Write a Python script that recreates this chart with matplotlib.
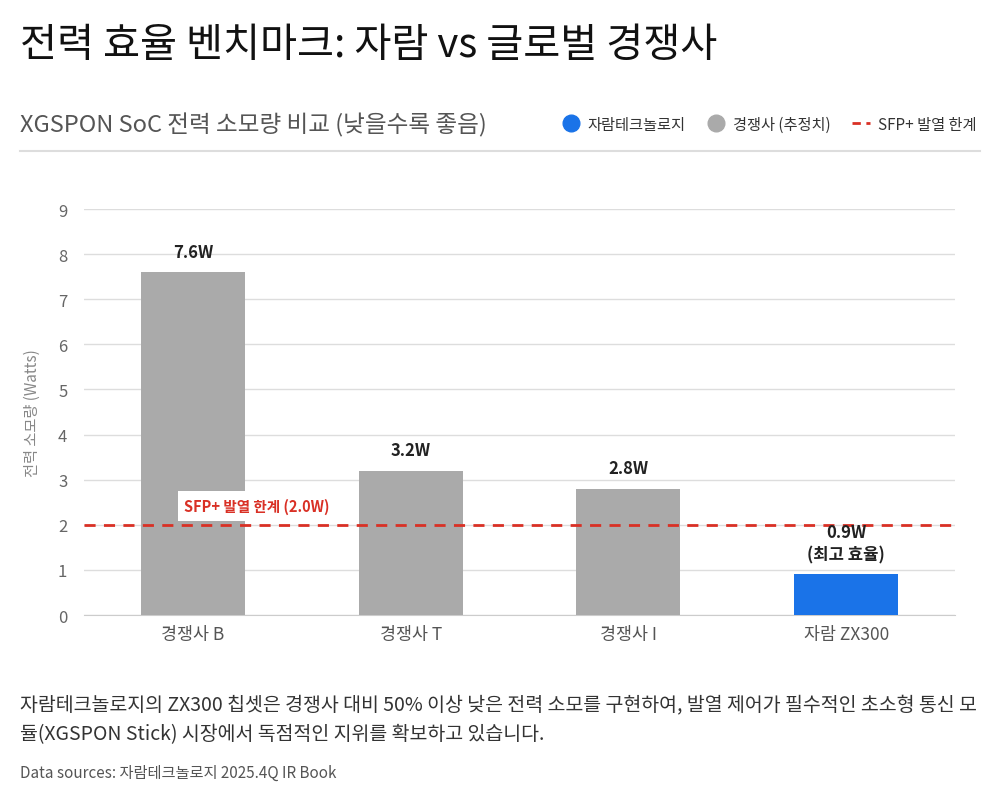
import matplotlib
matplotlib.use("Agg")
import matplotlib.pyplot as plt
from matplotlib.lines import Line2D

plt.rcParams['font.family'] = ['Noto Sans CJK KR', 'DejaVu Sans']

categories = ["경쟁사 B", "경쟁사 T", "경쟁사 I", "자람 ZX300"]
values = [7.6, 3.2, 2.8, 0.9]
labels = ["7.6W", "3.2W", "2.8W", "0.9W\n(최고 효율)"]
is_jaram = [False, False, False, True]
limit_value = 2.0
limit_label = "SFP+ 발열 한계 (2.0W)"
yticks = list(range(0, 10))

BLUE = "#1a73e8"
GRAY = "#aaaaaa"
RED = "#d93025"

fig = plt.figure(figsize=(10, 8.04), dpi=100)
ax = fig.add_axes([0.084, 0.2338, 0.871, 0.505])

x = list(range(len(categories)))
colors = [BLUE if j else GRAY for j in is_jaram]
ax.bar(x, values, width=0.477, color=colors, zorder=3)

ax.set_xlim(-0.5, len(categories) - 0.5)
ax.set_ylim(0, 9)
ax.set_yticks(yticks)
ax.set_xticks(x)
ax.set_xticklabels(categories, fontsize=12.5, color="#555555")
ax.tick_params(axis='y', labelsize=12, labelcolor="#666666", length=0, pad=12)
ax.tick_params(axis='x', length=0, pad=7)
ax.grid(axis='y', color="#dddddd", linewidth=1, zorder=0)
for s in ["top", "right", "left"]:
    ax.spines[s].set_visible(False)
ax.spines["bottom"].set_color("#cccccc")
ax.set_ylabel("전력 소모량 (Watts)", fontsize=11, color="#888888", labelpad=12)

for xi, v, lab in zip(x, values, labels):
    ax.text(xi, v + 0.25, lab, ha='center', va='bottom', fontsize=12,
            fontweight='bold', color="#222222", zorder=5, linespacing=1.3)

ax.axhline(limit_value, color=RED, linestyle=(0, (4, 3)), linewidth=2, zorder=4)
ax.text(-0.04, limit_value + 0.42, limit_label, ha='left', va='center', fontsize=10.5,
        fontweight='bold', color=RED, zorder=5,
        bbox=dict(boxstyle="square,pad=0.45", fc="white", ec="none"))

fig.text(0.02, 0.944, "전력 효율 벤치마크: 자람 vs 글로벌 경쟁사", fontsize=29,
         color="#111111", va='center', ha='left')
fig.text(0.02, 0.8445, "XGSPON SoC 전력 소모량 비교 (낮을수록 좋음)", fontsize=17,
         color="#555555", va='center', ha='left')

handles = [
    Line2D([0], [0], marker='o', linestyle='none', markersize=12,
           markerfacecolor=BLUE, markeredgecolor=BLUE),
    Line2D([0], [0], marker='o', linestyle='none', markersize=12,
           markerfacecolor=GRAY, markeredgecolor=GRAY),
    Line2D([0], [0], color=RED, linestyle=(0, (3, 2)), linewidth=2),
]
leg_labels = ["자람테크놀로지", "경쟁사 (추정치)", "SFP+ 발열 한계"]
leg = fig.legend(handles, leg_labels, loc='center right', bbox_to_anchor=(0.99, 0.8445),
                 ncol=3, frameon=False, fontsize=11, handlelength=1.2,
                 handletextpad=0.5, columnspacing=1.4)
for t in leg.get_texts():
    t.set_color("#333333")

fig.add_artist(Line2D([0.02, 0.98], [1 - 152 / 804, 1 - 152 / 804],
                      color="#dddddd", linewidth=1.5, transform=fig.transFigure))

fig.text(0.02, 1 - 706 / 804,
         "자람테크놀로지의 ZX300 칩셋은 경쟁사 대비 50% 이상 낮은 전력 소모를 구현하여, 발열 제어가 필수적인 초소형 통신 모",
         fontsize=14, color="#333333", va='center', ha='left')
fig.text(0.02, 1 - 735 / 804,
         "듈(XGSPON Stick) 시장에서 독점적인 지위를 확보하고 있습니다.",
         fontsize=14, color="#333333", va='center', ha='left')
fig.text(0.02, 1 - 773 / 804, "Data sources: 자람테크놀로지 2025.4Q IR Book",
         fontsize=11, color="#555555", va='center', ha='left')

fig.savefig("out.png", dpi=100, facecolor="white")
